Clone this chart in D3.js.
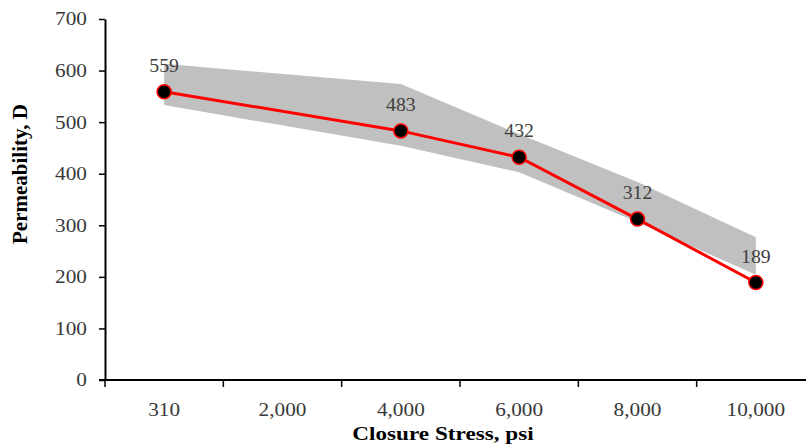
<!DOCTYPE html>
<html>
<head>
<meta charset="utf-8">
<script src="https://cdn.jsdelivr.net/npm/d3@7"></script>
<style>
  html, body { margin: 0; padding: 0; background: #fff; }
  svg { display: block; }
</style>
</head>
<body>
<svg id="chart" width="806" height="447"></svg>
<script>
// Closure stress categories (psi) and measured permeability (D)
const categories = ["310", "2,000", "4,000", "6,000", "8,000", "10,000"];
const permeability = [559, null, 483, 432, 312, 189];
// Upper and lower limits of the shaded range
const rangeHigh = [613, null, 574, 477, 384, 277];
const rangeLow = [533, null, 454, 403, 306, 204];
const yTicks = [0, 100, 200, 300, 400, 500, 600, 700];

const svg = d3.select("#chart");
const serif = "'Liberation Serif', 'Times New Roman', serif";
const wide = 1.15; // slightly widened lettering

const plotLeft = 105, plotRight = 815, plotTop = 19, plotBottom = 380;

const x = d3.scaleBand().domain(categories).range([plotLeft, plotRight]).paddingInner(0).paddingOuter(0);
const y = d3.scaleLinear().domain([0, 700]).range([plotBottom, plotTop]);
const cx = c => x(c) + x.bandwidth() / 2;

const rows = categories.map((c, i) => ({
  c, v: permeability[i], hi: rangeHigh[i], lo: rangeLow[i]
})).filter(d => d.v != null);

// Shaded range
const area = d3.area()
  .x(d => cx(d.c))
  .y0(d => y(d.lo))
  .y1(d => y(d.hi));
svg.append("path")
  .datum(rows)
  .attr("d", area)
  .attr("fill", "#c0c0c0");

// Measured line
const line = d3.line().x(d => cx(d.c)).y(d => y(d.v));
svg.append("path")
  .datum(rows)
  .attr("d", line)
  .attr("fill", "none")
  .attr("stroke", "#ff0000")
  .attr("stroke-width", 3);

svg.selectAll("circle.pt")
  .data(rows)
  .join("circle")
  .attr("class", "pt")
  .attr("cx", d => cx(d.c))
  .attr("cy", d => y(d.v))
  .attr("r", 7)
  .attr("fill", "#000")
  .attr("stroke", "#ff0000")
  .attr("stroke-width", 1.5);

svg.selectAll("text.val")
  .data(rows)
  .join("text")
  .attr("class", "val")
  .attr("transform", d => `translate(${cx(d.c)},${y(d.v) - 20}) scale(1.1,1)`)
  .attr("text-anchor", "middle")
  .attr("font-family", serif)
  .attr("font-size", 18)
  .attr("fill", "#404040")
  .text(d => d.v);

// Y axis
const yAxis = svg.append("g")
  .attr("transform", `translate(${plotLeft},0)`)
  .call(d3.axisLeft(y).tickValues(yTicks).tickSize(6).tickPadding(12).tickSizeOuter(0));
yAxis.select(".domain").attr("stroke", "#000").attr("stroke-width", 2);
yAxis.selectAll(".tick line").attr("stroke", "#000").attr("stroke-width", 1.5);
yAxis.selectAll(".tick text")
  .attr("x", null)
  .attr("transform", `translate(-18,0) scale(${wide},1)`)
  .attr("font-family", serif).attr("font-size", 18.5).attr("fill", "#383838");

// X axis: labels centred in each category, ticks on the category boundaries
const xAxis = svg.append("g")
  .attr("transform", `translate(0,${plotBottom})`)
  .call(d3.axisBottom(x).tickSize(0).tickPadding(23).tickSizeOuter(0));
xAxis.select(".domain").attr("d", `M${plotLeft - 6},0H806`).attr("stroke", "#000").attr("stroke-width", 2);
xAxis.selectAll(".tick text")
  .attr("transform", `scale(${wide},1)`)
  .attr("font-family", serif).attr("font-size", 18.5).attr("fill", "#383838");
xAxis.selectAll("line.bound")
  .data(categories)
  .join("line")
  .attr("class", "bound")
  .attr("x1", c => x(c)).attr("x2", c => x(c))
  .attr("y1", 0).attr("y2", 7)
  .attr("stroke", "#000").attr("stroke-width", 1.5);

// Axis titles
svg.append("text")
  .attr("transform", "translate(443,440) scale(1.22,1)")
  .attr("text-anchor", "middle")
  .attr("font-family", serif).attr("font-size", 19).attr("font-weight", "bold")
  .attr("fill", "#000")
  .text("Closure Stress, psi");

svg.append("text")
  .attr("transform", "translate(27,174) rotate(-90)")
  .attr("text-anchor", "middle")
  .attr("font-family", serif).attr("font-size", 21).attr("font-weight", "bold")
  .attr("fill", "#000")
  .text("Permeability, D");
</script>
</body>
</html>
